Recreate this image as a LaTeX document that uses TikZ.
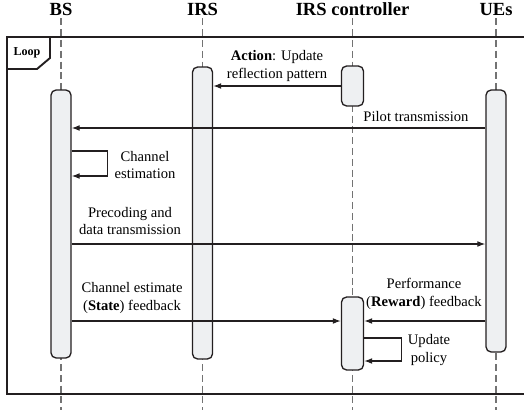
\documentclass[tikz,border=0pt]{standalone}
\usepackage{fontspec}
\setmainfont{Liberation Serif}
\usetikzlibrary{arrows.meta,fit}
\definecolor{linec}{HTML}{231F20}
\definecolor{boxfill}{HTML}{EEF0F2}
\tikzset{
  lifeline/.style={draw=black!55,line width=0.7pt,dash pattern=on 4.8pt off 2.6pt},
  actbox/.style={draw=linec,fill=boxfill,line width=0.9pt,rounded corners=3.5pt,inner sep=0pt},
  msg/.style={draw=linec,line width=0.8pt,-{Latex[length=5.5pt,width=4pt]}},
  title/.style={font=\fontsize{12.7}{15}\selectfont\bfseries,anchor=base},
  lbl/.style={align=center,font=\fontsize{10}{12.3}\selectfont,inner sep=0pt}
}
\begin{document}
\begin{tikzpicture}[x=0.685pt,y=-0.685pt]
\useasboundingbox (0,0) rectangle (524,410);
\node[title] (bs) at (61,16) {BS};
\node[title] (irs) at (202.5,16) {IRS};
\node[title] (ctrl) at (352.5,16) {IRS controller};
\node[title] (ues) at (496,16) {UEs};
\coordinate (bsend) at (61,410);
\coordinate (irsend) at (202.5,410);
\coordinate (ctrlend) at (352.5,410);
\coordinate (uesend) at (496,410);
\draw[lifeline] (bs.south) ++(0,-3) -- (bsend);
\draw[lifeline] (irs.south) ++(0,-3) -- (irsend);
\draw[lifeline] (ctrl.south) ++(0,-3) -- (ctrlend);
\draw[lifeline] (ues.south) ++(0,-3) -- (uesend);
% loop frame
\draw[linec,line width=1.3pt] (524,37) -- (7,37) -- (7,394) -- (524,394);
\draw[linec,line width=1.3pt,fill=white] (7,37) -- (50,37) -- (50,58) -- (37,69) -- (7,69) -- cycle;
\node[font=\fontsize{8.3}{10}\selectfont\bfseries] (loop) at (27,53) {Loop};
% activations
\node[actbox,fit={(51,90) (71,358)}] (bsA) {};
\node[actbox,fit={(192.5,67) (212.5,359)}] (irsA) {};
\node[actbox,fit={(341.5,66) (363.5,106)}] (ctrlA) {};
\node[actbox,fit={(341.5,297) (363.5,370)}] (ctrlB) {};
\node[actbox,fit={(486,90) (506,352)}] (uesA) {};
\coordinate (pilot) at (0,128);
\coordinate (estA) at (0,151);
\coordinate (estB) at (0,176);
\coordinate (data) at (0,244);
\coordinate (fb) at (0,321);
\coordinate (polA) at (0,338);
\coordinate (polB) at (0,361);
% messages
\draw[msg] (ctrlA.west) -- (irsA.east |- ctrlA.west);
\draw[msg] (uesA.west |- pilot) -- (bsA.east |- pilot);
\draw[msg] (bsA.east |- estA) -- ++(36,0) |- (bsA.east |- estB);
\draw[msg] (bsA.east |- data) -- (uesA.west |- data);
\draw[msg] (bsA.east |- fb) -- (ctrlB.west |- fb);
\draw[msg] (uesA.west |- fb) -- (ctrlB.east |- fb);
\draw[msg] (ctrlB.east |- polA) -- ++(37,0) |- (ctrlB.east |- polB);
% labels
\node[lbl] (act) at (277,66) {\textbf{Action}: Update\\reflection pattern};
\node[lbl] (pil) at (416,117) {Pilot transmission};
\node[lbl] (est) at (145,165) {Channel\\estimation};
\node[lbl] (pre) at (130,221) {Precoding and\\data transmission};
\node[lbl] (sta) at (132,298) {Channel estimate\\(\textbf{State}) feedback};
\node[lbl] (rew) at (424,294) {Performance\\(\textbf{Reward}) feedback};
\node[lbl] (pol) at (429,350) {Update\\policy};
\end{tikzpicture}
\end{document}
